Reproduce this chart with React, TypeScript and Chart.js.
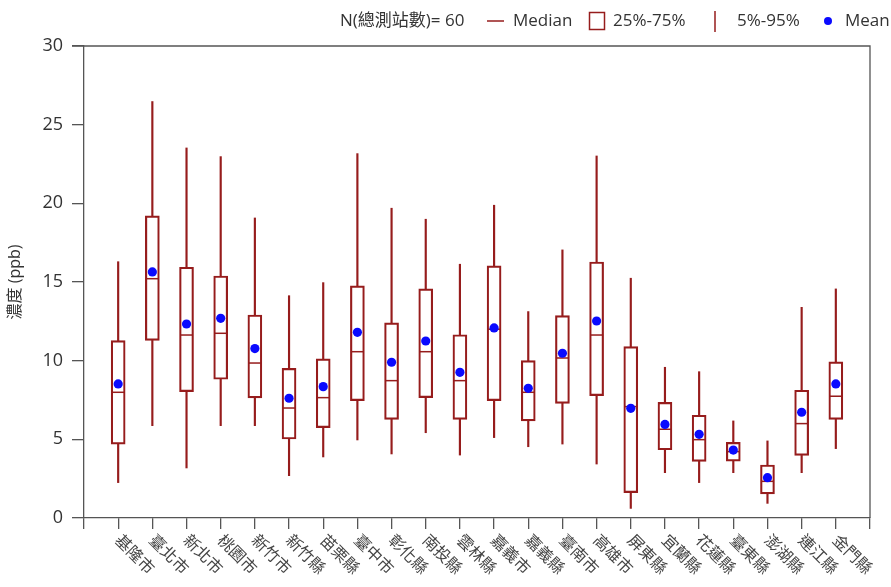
import React, { useEffect, useRef } from 'react';
import { Chart, registerables } from 'chart.js';

Chart.register(...registerables);

// ---------- data ----------
const categories = [
  '基隆市', '臺北市', '新北市', '桃園市', '新竹市', '新竹縣', '苗栗縣', '臺中市',
  '彰化縣', '南投縣', '雲林縣', '嘉義市', '嘉義縣', '臺南市', '高雄市', '屏東縣',
  '宜蘭縣', '花蓮縣', '臺東縣', '澎湖縣', '連江縣', '金門縣',
];
const p5 = [2.25, 5.87, 3.18, 5.87, 5.87, 2.69, 3.88, 4.96, 4.07, 5.42, 4.0, 5.11, 4.53, 4.70, 3.43, 0.61, 2.88, 2.25, 2.88, 0.93, 2.88, 4.41];
const q1 = [4.70, 11.29, 8.03, 8.82, 7.63, 5.02, 5.74, 7.46, 6.27, 7.65, 6.27, 7.46, 6.17, 7.29, 7.78, 1.61, 4.34, 3.60, 3.62, 1.53, 3.98, 6.27];
const median = [7.99, 15.21, 11.63, 11.74, 9.85, 6.99, 7.65, 10.57, 8.73, 10.57, 8.73, 12.0, 7.99, 10.17, 11.63, 7.08, 5.64, 4.98, 4.22, 2.33, 6.00, 7.74];
const q3 = [11.27, 19.20, 15.94, 15.38, 12.90, 9.51, 10.11, 14.75, 12.40, 14.56, 11.65, 16.02, 10.0, 12.86, 16.27, 10.89, 7.35, 6.53, 4.81, 3.37, 8.12, 9.92];
const p95 = [16.29, 26.47, 23.52, 22.97, 19.07, 14.13, 14.96, 23.16, 19.69, 18.99, 16.13, 19.88, 13.12, 17.04, 23.01, 15.24, 9.58, 9.30, 6.17, 4.90, 13.39, 14.56];
const mean = [8.52, 15.64, 12.33, 12.69, 10.77, 7.61, 8.35, 11.80, 9.90, 11.25, 9.26, 12.08, 8.24, 10.47, 12.52, 6.97, 5.95, 5.32, 4.32, 2.56, 6.72, 8.52];

const yMin = 0;
const yMax = 30;
const yStep = 5;
const yTitle = '濃度 (ppb)';
const stationText = 'N(總測站數)= 60';
const legendMedian = 'Median';
const legendBox = '25%-75%';
const legendWhisker = '5%-95%';
const legendMean = 'Mean';

// ---------- styles ----------
const RED = 'rgb(150,28,28)';
const BLUE = '#0a0aff';
const AXIS = '#555555';
const TEXT = '#333333';
const LATIN = "'Open Sans', 'Noto Sans CJK TC', sans-serif";
const CJK = "'Noto Sans CJK TC', 'Open Sans', sans-serif";

const labels = ['', ...categories, ''];
const pad = <T,>(arr: T[]): (T | null)[] => [null, ...arr, null];

const decorPlugin = {
  id: 'decor',
  afterDraw(chart: any) {
    const { ctx, chartArea: a, scales } = chart;
    const x = scales.x;
    ctx.save();
    // top and right frame
    ctx.strokeStyle = AXIS;
    ctx.lineWidth = 1.3;
    ctx.beginPath();
    ctx.moveTo(a.left - 12, a.top);
    ctx.lineTo(a.right, a.top);
    ctx.lineTo(a.right, a.bottom);
    ctx.stroke();

    // x category labels, rotated down-right
    ctx.font = `16px ${CJK}`;
    ctx.fillStyle = '#444';
    ctx.textAlign = 'left';
    ctx.textBaseline = 'middle';
    categories.forEach((c, i) => {
      const px = x.getPixelForValue(i + 1);
      ctx.save();
      ctx.translate(px, a.bottom + 19);
      ctx.rotate(Math.PI / 4);
      ctx.fillText(c, 0, 0);
      ctx.restore();
    });

    // y title
    ctx.save();
    ctx.font = `16px ${LATIN}`;
    ctx.fillStyle = TEXT;
    ctx.textAlign = 'center';
    ctx.textBaseline = 'middle';
    ctx.translate(15, (a.top + a.bottom) / 2);
    ctx.rotate(-Math.PI / 2);
    ctx.fillText(yTitle, 0, 0);
    ctx.restore();

    // legend
    const ly = 21;
    ctx.font = `17px ${LATIN}`;
    ctx.fillStyle = TEXT;
    ctx.textAlign = 'left';
    ctx.textBaseline = 'middle';
    ctx.fillText(stationText, 340, ly);
    ctx.strokeStyle = RED;
    ctx.lineWidth = 1.5;
    ctx.beginPath();
    ctx.moveTo(487, ly);
    ctx.lineTo(504, ly);
    ctx.stroke();
    ctx.fillText(legendMedian, 513, ly);
    ctx.strokeRect(589.5, 12.5, 15, 17);
    ctx.fillText(legendBox, 613, ly);
    ctx.beginPath();
    ctx.moveTo(715, 11);
    ctx.lineTo(715, 32);
    ctx.stroke();
    ctx.fillText(legendWhisker, 737, ly);
    ctx.fillStyle = BLUE;
    ctx.beginPath();
    ctx.arc(828, ly, 4, 0, Math.PI * 2);
    ctx.fill();
    ctx.fillStyle = TEXT;
    ctx.fillText(legendMean, 845, ly);
    ctx.restore();
  },
};

export default function App() {
  const ref = useRef<HTMLCanvasElement>(null);

  useEffect(() => {
    document.body.style.margin = '0';
    const canvas = ref.current;
    if (!canvas) return;
    const chart = new Chart(canvas, {
      type: 'bar',
      data: {
        labels,
        datasets: [
          {
            type: 'line',
            label: 'Mean',
            data: pad(mean),
            showLine: false,
            pointStyle: 'circle',
            pointRadius: 4.6,
            pointBackgroundColor: BLUE,
            pointBorderColor: BLUE,
            pointBorderWidth: 0,
            order: 0,
          } as any,
          {
            type: 'line',
            label: 'Median',
            data: pad(median),
            showLine: false,
            pointStyle: 'line',
            pointRadius: 6.5,
            pointBorderColor: RED,
            pointBorderWidth: 1.5,
            order: 1,
          } as any,
          {
            type: 'bar',
            label: '25%-75%',
            data: pad(categories.map((_, i) => [q1[i], q3[i]])),
            backgroundColor: 'rgba(0,0,0,0)',
            borderColor: RED,
            borderWidth: 1.5,
            borderSkipped: false,
            barThickness: 14,
            grouped: false,
            order: 2,
          } as any,
          {
            type: 'bar',
            label: '5%-25%',
            data: pad(categories.map((_, i) => [p5[i], q1[i]])),
            backgroundColor: RED,
            borderWidth: 0,
            barThickness: 1.5,
            grouped: false,
            order: 3,
          } as any,
          {
            type: 'bar',
            label: '75%-95%',
            data: pad(categories.map((_, i) => [q3[i], p95[i]])),
            backgroundColor: RED,
            borderWidth: 0,
            barThickness: 1.5,
            grouped: false,
            order: 3,
          } as any,
        ],
      },
      options: {
        responsive: false,
        animation: false,
        devicePixelRatio: 1,
        layout: { padding: { top: 46, right: 21, left: 0, bottom: 0 } },
        plugins: {
          legend: { display: false },
          tooltip: { enabled: false },
        },
        scales: {
          x: {
            type: 'category',
            offset: false,
            grid: {
              display: true,
              offset: false,
              drawOnChartArea: false,
              drawTicks: true,
              tickLength: 11,
              color: AXIS,
              lineWidth: 1.3,
            },
            border: { display: true, color: AXIS, width: 1.3 },
            ticks: { display: false, autoSkip: false },
            afterFit: (s: any) => {
              s.height = 69;
            },
          },
          y: {
            min: yMin,
            max: yMax,
            ticks: {
              stepSize: yStep,
              color: TEXT,
              padding: 9,
              font: { family: LATIN, size: 18 },
            },
            grid: {
              display: true,
              drawOnChartArea: false,
              drawTicks: true,
              tickLength: 12,
              color: AXIS,
              lineWidth: 1.3,
            },
            border: { display: true, color: AXIS, width: 1.3 },
            afterFit: (s: any) => {
              s.width = 84;
            },
          },
        },
      } as any,
      plugins: [decorPlugin],
    });
    return () => chart.destroy();
  }, []);

  return (
    <div style={{ position: 'fixed', left: 0, top: 0, width: 891, height: 587, background: '#fff' }}>
      <canvas ref={ref} width={891} height={587} style={{ display: 'block' }} />
    </div>
  );
}
